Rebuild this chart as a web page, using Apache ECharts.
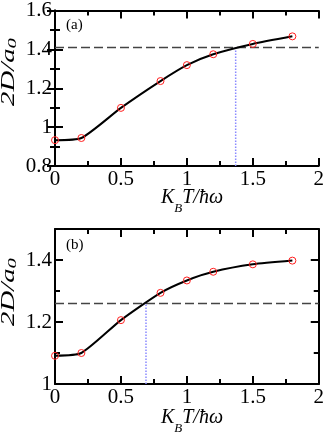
<!DOCTYPE html>
<html>
<head>
<meta charset="utf-8">
<script src="https://cdn.jsdelivr.net/npm/echarts@6/dist/echarts.min.js"></script>
<style>
html, body { margin: 0; padding: 0; background: #fff; }
#chart { width: 327px; height: 436px; }
</style>
</head>
<body>
<div id="chart"></div>
<script>
// temperatures (K_B T / hbar omega)
var temps = [0, 0.2, 0.5, 0.8, 1.0, 1.2, 1.5, 1.8];
// 2D/a0, panel (a) and (b)
var widthA = [0.933, 0.944, 1.099, 1.237, 1.319, 1.375, 1.428, 1.467];
var widthB = [1.091, 1.100, 1.206, 1.294, 1.334, 1.362, 1.386, 1.398];
// dashed reference level and where the curve crosses it
var refLevel = [1.41, 1.26];
var crossT = [1.37, 0.69];
var yRangeA = [0.8, 1.6];
var yRangeB = [1.0, 1.5];
var xRange = [0, 2];
var panelNames = ['(a)', '(b)'];

var serif = 'Liberation Serif';
var black = '#000';

function pairs(xs, ys) {
    return xs.map(function (x, i) { return [x, ys[i]]; });
}

function xAxes(gridIndex) {
    var base = {
        type: 'value',
        gridIndex: gridIndex,
        min: xRange[0],
        max: xRange[1],
        interval: 0.5,
        axisLine: { show: true, lineStyle: { color: black, width: 2 } },
        axisTick: { show: true, inside: true, length: 8, lineStyle: { color: black, width: 2 } },
        minorTick: { show: true, splitNumber: 2, length: 5, lineStyle: { color: black, width: 2 } },
        splitLine: { show: false },
        axisLabel: { fontFamily: serif, fontSize: 21, color: black, margin: 3 }
    };
    var top = echarts.util.merge(echarts.util.clone(base), {
        position: 'top',
        axisLabel: { show: false }
    }, true);
    base.position = 'bottom';
    return [base, top];
}

function yAxisCommon(gridIndex, range, position) {
    return {
        type: 'value',
        gridIndex: gridIndex,
        position: position,
        min: range[0],
        max: range[1],
        axisLine: { show: true, lineStyle: { color: black, width: 2 } },
        splitLine: { show: false },
        axisLabel: { show: position === 'left', fontFamily: serif, fontSize: 21, color: black, margin: 3 }
    };
}

// panel (a): y ticks every 0.2 with a minor tick in between
var yA = ['left', 'right'].map(function (p) {
    var a = yAxisCommon(0, yRangeA, p);
    a.interval = 0.2;
    a.axisTick = { show: true, inside: true, length: 8, lineStyle: { color: black, width: 2 } };
    a.minorTick = { show: true, splitNumber: 2, length: 5, lineStyle: { color: black, width: 2 } };
    return a;
});

// panel (b): max 1.5 is not on the 0.2 grid, so minor ticks come from a second axis
var yB = [];
['left', 'right'].forEach(function (p) {
    var major = yAxisCommon(1, yRangeB, p);
    major.interval = 0.2;
    major.axisLabel.showMaxLabel = false;
    major.axisTick = { show: true, inside: true, length: 8, lineStyle: { color: black, width: 2 } };
    var minor = yAxisCommon(1, yRangeB, p);
    minor.interval = 0.1;
    minor.axisLine = { show: false };
    minor.axisLabel = { show: false };
    minor.axisTick = { show: true, inside: true, length: 5, lineStyle: { color: black, width: 2 } };
    yB.push(major, minor);
});

function panelSeries(xIdx, yIdx, ys, level, cross, yMin) {
    return [
        {
            type: 'line', xAxisIndex: xIdx, yAxisIndex: yIdx,
            data: [[xRange[0], level], [xRange[1], level]],
            symbol: 'none', silent: true,
            lineStyle: { color: '#444', width: 1.5, type: [9, 4] }
        },
        {
            type: 'line', xAxisIndex: xIdx, yAxisIndex: yIdx,
            data: [[cross, yMin], [cross, level]],
            symbol: 'none', silent: true,
            lineStyle: { color: '#8a8aff', width: 1.5, type: 'dotted' }
        },
        {
            type: 'line', xAxisIndex: xIdx, yAxisIndex: yIdx,
            data: pairs(temps, ys),
            smooth: 0.2,
            symbol: 'circle',
            symbolSize: 7,
            lineStyle: { color: black, width: 2 },
            itemStyle: { color: 'transparent', borderColor: '#ff2020', borderWidth: 1 }
        }
    ];
}

var richX = {
    i: { fontFamily: serif, fontStyle: 'italic', fontSize: 20, lineHeight: 20, verticalAlign: 'top', color: black },
    s: { fontFamily: serif, fontStyle: 'italic', fontSize: 13, lineHeight: 13, verticalAlign: 'top', padding: [14, 0, 0, 0], color: black }
};
var richY = {
    i: { fontFamily: serif, fontStyle: 'italic', fontSize: 18, lineHeight: 18, verticalAlign: 'top', color: black },
    s: { fontFamily: serif, fontStyle: 'italic', fontSize: 13, lineHeight: 13, verticalAlign: 'top', padding: [6, 0, 0, 0], color: black }
};

function titles(offsetY, label) {
    return [
        {
            type: 'text', x: 192, y: 188 + offsetY,
            style: { text: '{i|K}{s|B}{i|T/ħω}', rich: richX, align: 'center', verticalAlign: 'top' }
        },
        {
            type: 'text', x: 9, y: 72 + offsetY, rotation: Math.PI / 2, scaleX: 1.6,
            style: { text: '{i|2D/a}{s|0}', rich: richY, align: 'center', verticalAlign: 'middle' }
        },
        {
            type: 'text', x: 66, y: 25 + offsetY,
            style: { text: label, fontFamily: serif, fontSize: 15, fill: black, verticalAlign: 'middle' }
        }
    ];
}

var chart = echarts.init(document.getElementById('chart'));
chart.setOption({
    animation: false,
    backgroundColor: '#fff',
    grid: [
        { left: 55, right: 6, top: 9, height: 157 },
        { left: 55, right: 6, top: 229, height: 155 }
    ],
    xAxis: xAxes(0).concat(xAxes(1)),
    yAxis: yA.concat(yB),
    series: panelSeries(0, 0, widthA, refLevel[0], crossT[0], yRangeA[0])
        .concat(panelSeries(2, 2, widthB, refLevel[1], crossT[1], yRangeB[0])),
    graphic: titles(0, panelNames[0]).concat(titles(220, panelNames[1]))
});
</script>
</body>
</html>
